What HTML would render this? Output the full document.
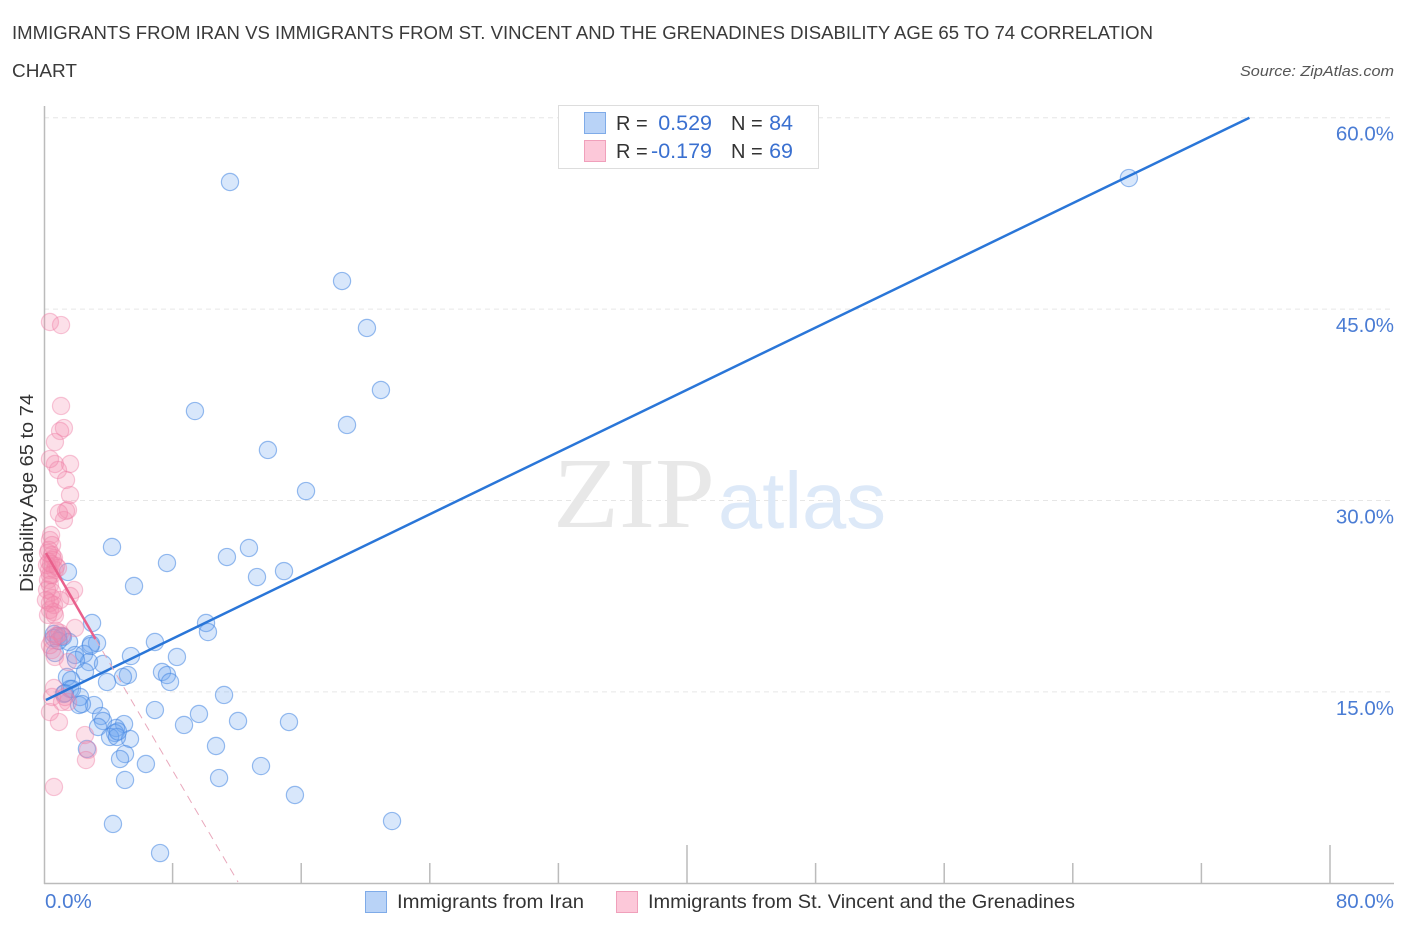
<!DOCTYPE html>
<html>
<head>
<meta charset="utf-8">
<title>Disability Age 65 to 74 Correlation Chart</title>
<style>
html,body{margin:0;padding:0;background:#fff;}
svg{display:block;font-family:"Liberation Sans",sans-serif;}
</style>
</head>
<body>
<svg id="chart" width="1406" height="930" viewBox="0 0 1406 930" xmlns="http://www.w3.org/2000/svg">
  <rect width="1406" height="930" fill="#fff"/>
  <text x="12" y="39" font-size="18.5" fill="#3a3a3a" textLength="1141" lengthAdjust="spacingAndGlyphs">IMMIGRANTS FROM IRAN VS IMMIGRANTS FROM ST. VINCENT AND THE GRENADINES DISABILITY AGE 65 TO 74 CORRELATION</text>
  <text x="12" y="77" font-size="18.5" fill="#3a3a3a" textLength="65" lengthAdjust="spacingAndGlyphs">CHART</text>
  <text x="1394" y="76" font-size="15" font-style="italic" fill="#555" text-anchor="end" textLength="154" lengthAdjust="spacingAndGlyphs">Source: ZipAtlas.com</text>
  <g id="grid"></g>
  <g>
    <text x="553" y="527" font-family="'Liberation Serif',serif" font-size="101" fill="#e8e8e8" textLength="162" lengthAdjust="spacingAndGlyphs">ZIP</text>
    <text x="718" y="528" font-size="80" fill="#dde9f8" textLength="168" lengthAdjust="spacingAndGlyphs">atlas</text>
  </g>
  <g id="axes"></g>
  <g id="blue-points"></g>
  <g id="pink-points"></g>
  <g id="trends"></g>
  <g id="tick-labels"></g>
  <text transform="translate(33,493) rotate(-90)" font-size="18" fill="#333" text-anchor="middle" textLength="198" lengthAdjust="spacingAndGlyphs">Disability Age 65 to 74</text>
  <g>
    <rect x="558.5" y="105.5" width="260" height="63" fill="#fff" stroke="#ddd"/>
    <rect x="584.5" y="112.5" width="21" height="21" fill="#b9d3f7" stroke="#7fabe8"/>
    <rect x="584.5" y="140.5" width="21" height="21" fill="#fcc8d9" stroke="#f0a0bb"/>
    <text x="616" y="130" font-size="20" fill="#333">R =</text>
    <text x="712" y="130" font-size="21.5" fill="#3a70d0" text-anchor="end">0.529</text>
    <text x="731" y="130" font-size="20" fill="#333">N =</text>
    <text x="793" y="130" font-size="21.5" fill="#3a70d0" text-anchor="end">84</text>
    <text x="616" y="158" font-size="20" fill="#333">R =</text>
    <text x="712" y="158" font-size="21.5" fill="#3a70d0" text-anchor="end">-0.179</text>
    <text x="731" y="158" font-size="20" fill="#333">N =</text>
    <text x="793" y="158" font-size="21.5" fill="#3a70d0" text-anchor="end">69</text>
  </g>
  <g>
    <rect x="365.5" y="891.5" width="21" height="21" fill="#b9d3f7" stroke="#7fabe8"/>
    <text x="397" y="908" font-size="19.5" fill="#333" textLength="187" lengthAdjust="spacingAndGlyphs">Immigrants from Iran</text>
    <rect x="616.5" y="891.5" width="21" height="21" fill="#fcc8d9" stroke="#f0a0bb"/>
    <text x="648" y="908" font-size="19.5" fill="#333" textLength="427" lengthAdjust="spacingAndGlyphs">Immigrants from St. Vincent and the Grenadines</text>
  </g>
</svg>
<script>
const blueX = [11.57,67.49,18.54,20.09,20.96,9.39,18.85,13.93,16.30,4.23,12.75,11.38,7.65,14.93,13.25,5.60,1.49,2.99,10.08,10.20,6.90,3.30,2.92,0.62,0.87,1.12,0.62,1.18,1.56,0.68,1.93,5.41,8.27,2.49,2.80,1.99,3.67,7.34,7.65,7.84,5.22,4.91,3.92,2.55,1.43,1.68,1.62,1.74,1.24,2.24,11.20,6.90,9.64,3.11,2.18,2.36,3.55,12.07,15.24,4.98,3.67,8.71,3.36,4.48,4.42,4.11,5.35,4.54,10.70,2.67,5.04,4.73,6.34,13.50,5.04,10.89,15.61,4.29,21.65,7.22,0.90,1.30,4.60,2.90];
const blueY = [54.96,55.27,47.20,43.52,38.66,37.01,35.92,33.96,30.74,26.36,26.28,25.57,25.10,24.47,24.00,23.30,24.40,20.40,20.40,19.69,18.91,18.83,18.75,19.54,19.38,19.38,19.22,19.30,18.91,18.05,17.89,17.81,17.74,17.97,17.34,17.50,17.19,16.56,16.32,15.78,16.32,16.17,15.78,16.56,16.17,15.93,15.23,15.23,14.84,14.60,14.76,13.58,13.27,13.97,13.97,14.05,13.11,12.72,12.64,12.48,12.72,12.41,12.25,12.17,11.78,11.47,11.31,11.47,10.76,10.53,10.13,9.74,9.35,9.19,8.10,8.25,6.92,4.65,4.88,2.37,19.00,14.90,11.90,18.60];
const pinkX = [0.37,1.06,1.06,1.24,1.00,0.68,1.62,0.68,0.87,0.37,1.37,1.62,1.24,1.49,1.37,0.93,0.44,0.37,0.50,0.31,0.50,0.62,0.31,0.75,0.31,0.50,0.68,0.25,0.37,1.87,1.62,1.00,0.50,0.62,0.37,0.62,1.93,0.50,1.00,1.12,0.50,0.68,1.49,0.62,0.50,1.49,1.12,1.31,0.37,0.93,2.55,2.74,2.61,0.62,0.56,0.19,0.87,0.37,0.19,0.50,0.12,0.37,0.25,0.75,0.75,0.37,0.25,0.44,0.68];
const pinkY = [43.99,43.75,37.41,35.68,35.45,34.58,32.86,32.86,32.39,33.25,31.61,30.43,28.47,29.26,29.18,29.02,27.30,26.90,26.51,26.12,25.73,25.49,25.18,24.87,24.55,24.16,24.55,23.77,23.38,22.99,22.52,22.20,22.36,21.81,21.42,21.26,20.01,19.07,19.62,19.38,18.28,17.74,17.34,15.31,14.60,14.21,14.21,14.60,13.42,12.64,11.62,10.45,9.66,7.55,25.34,24.95,24.71,24.16,23.00,22.83,22.20,21.97,21.03,19.80,19.38,18.67,25.90,25.03,21.00];
const xTickValues = [0,8,16,24,32,40,48,56,64,72,80];
const xTickLabels = ["0.0%","80.0%"];
const yTickValues = [15,30,45,60];
const yTickLabels = ["15.0%","30.0%","45.0%","60.0%"];
const blueTrendX = [0.12,74.99];
const blueTrendY = [14.37,60.00];
const pinkTrendSolidX = [0.12,3.20];
const pinkTrendSolidY = [25.89,19.15];
const pinkTrendDashX = [3.20,12.07];
const pinkTrendDashY = [19.15,0.10];

const NS = "http://www.w3.org/2000/svg";
function xScale(v){ return 44 + v * 16.075; }
function yScale(v){ return 883.3 - v * 12.76; }
function make(tag, attrs, parent){
  const el = document.createElementNS(NS, tag);
  for (const k in attrs) el.setAttribute(k, attrs[k]);
  parent.appendChild(el);
  return el;
}
const grid = document.getElementById("grid");
const axes = document.getElementById("axes");
const bluePts = document.getElementById("blue-points");
const pinkPts = document.getElementById("pink-points");
const trends = document.getElementById("trends");
const tickLabels = document.getElementById("tick-labels");

yTickValues.forEach(function(v, i){
  const l = make("line", {x1:44, x2:1394, y1:yScale(v), y2:yScale(v), stroke:"#e6e6e6", "stroke-width":1, "stroke-dasharray":"5 4"}, grid);
  
  
  const t = make("text", {x:1394, y:yScale(v) + 23, "font-size":20.5, fill:"#4a7cd4", "text-anchor":"end"}, tickLabels);
  
  
  t.textContent = yTickLabels[i];
});

const yAxis = make("line", {x1:44.5, x2:44.5, y1:106, y2:884, stroke:"#bbb", "stroke-width":1.5}, axes);


const xAxis = make("line", {x1:44, x2:1394, y1:883.5, y2:883.5, stroke:"#bbb", "stroke-width":1.5}, axes);


xTickValues.forEach(function(v, i){
  if (i === 0) return;
  const len = (i % 5 === 0) ? 38 : 20;
  const tick = make("line", {x1:xScale(v), x2:xScale(v), y1:883, y2:883 - len, stroke:"#bbb", "stroke-width":1.5}, axes);
  
  
});
const xl0 = make("text", {x:45, y:908, "font-size":20.5, fill:"#4a7cd4"}, tickLabels);


xl0.textContent = xTickLabels[0];
const xl1 = make("text", {x:1394, y:908, "font-size":20.5, fill:"#4a7cd4", "text-anchor":"end"}, tickLabels);


xl1.textContent = xTickLabels[1];

blueX.forEach(function(v, i){
  const c = make("circle", {cx:xScale(v), cy:yScale(blueY[i]), r:8.6, fill:"rgba(110,165,240,0.27)", stroke:"rgba(70,135,225,0.55)", "stroke-width":1.2}, bluePts);
  
  
});
pinkX.forEach(function(v, i){
  const c = make("circle", {cx:xScale(v), cy:yScale(pinkY[i]), r:8.6, fill:"rgba(245,140,175,0.27)", stroke:"rgba(238,125,165,0.42)", "stroke-width":1.2}, pinkPts);
  
  
});

const bt = make("line", {x1:xScale(blueTrendX[0]), y1:yScale(blueTrendY[0]), x2:xScale(blueTrendX[1]), y2:yScale(blueTrendY[1]), stroke:"#2a76d8", "stroke-width":2.5}, trends);


const ps = make("line", {x1:xScale(pinkTrendSolidX[0]), y1:yScale(pinkTrendSolidY[0]), x2:xScale(pinkTrendSolidX[1]), y2:yScale(pinkTrendSolidY[1]), stroke:"#e9608c", "stroke-width":2.5}, trends);


const pd = make("line", {x1:xScale(pinkTrendDashX[0]), y1:yScale(pinkTrendDashY[0]), x2:xScale(pinkTrendDashX[1]), y2:yScale(pinkTrendDashY[1]), stroke:"#e9a8bc", "stroke-width":1, "stroke-dasharray":"8 6"}, trends);


</script>
</body>
</html>
